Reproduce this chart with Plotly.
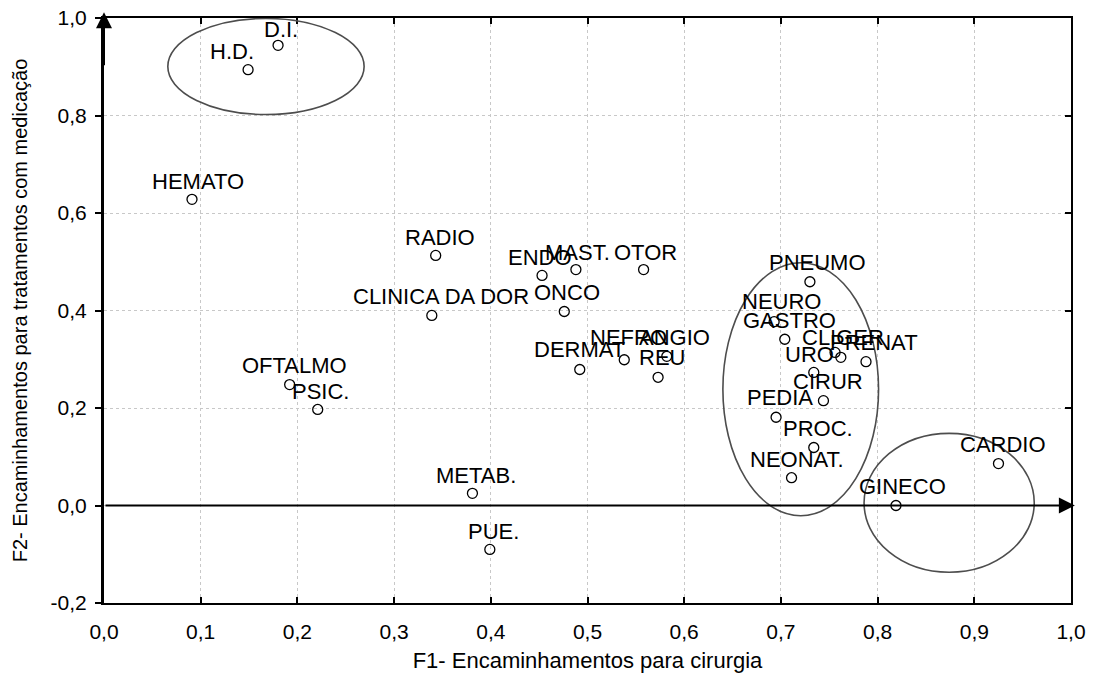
import plotly.graph_objects as go

# ---- data ----
names = ["D.I.", "H.D.", "HEMATO", "RADIO", "ENDO", "MAST.", "OTOR", "ONCO",
         "CLINICA DA DOR", "NEFRO", "ANGIO", "REU", "DERMAT", "OFTALMO", "PSIC.",
         "METAB.", "PUE.", "PNEUMO", "NEURO", "GASTRO", "CLIGER", "", "PRENAT",
         "URO", "CIRUR", "PEDIA", "PROC.", "NEONAT.", "CARDIO", "GINECO"]
f1 = [0.180, 0.149, 0.091, 0.343, 0.453, 0.488, 0.558, 0.476,
      0.339, 0.538, 0.582, 0.573, 0.492, 0.192, 0.221,
      0.381, 0.399, 0.730, 0.693, 0.704, 0.762, 0.756, 0.788,
      0.734, 0.744, 0.695, 0.734, 0.711, 0.925, 0.819]
f2 = [0.944, 0.894, 0.628, 0.513, 0.472, 0.484, 0.484, 0.398,
      0.390, 0.299, 0.306, 0.263, 0.279, 0.248, 0.197,
      0.025, -0.090, 0.459, 0.377, 0.341, 0.304, 0.314, 0.295,
      0.273, 0.215, 0.181, 0.119, 0.057, 0.086, 0.000]

x_ticks = [0.0, 0.1, 0.2, 0.3, 0.4, 0.5, 0.6, 0.7, 0.8, 0.9, 1.0]
x_ticktext = ["0,0", "0,1", "0,2", "0,3", "0,4", "0,5", "0,6", "0,7", "0,8", "0,9", "1,0"]
y_ticks = [-0.2, 0.0, 0.2, 0.4, 0.6, 0.8, 1.0]
y_ticktext = ["-0,2", "0,0", "0,2", "0,4", "0,6", "0,8", "1,0"]

x_title = "F1- Encaminhamentos para cirurgia"
y_title = "F2- Encaminhamentos para tratamentos com medicação"

# group ellipses (x0, x1, y0, y1)
ellipses = [(0.066, 0.269, 0.802, 0.999),
            (0.640, 0.801, -0.021, 0.498),
            (0.786, 0.962, -0.137, 0.148)]

# label offsets in pixels (dx right, dy up)
label_offsets = {
    "D.I.": (3, 16), "H.D.": (-16, 18), "HEMATO": (6, 18), "RADIO": (4, 18),
    "ENDO": (-2, 18), "MAST.": (2, 17), "OTOR": (2, 17), "ONCO": (3, 19),
    "CLINICA DA DOR": (9, 19), "NEFRO": (4, 22), "ANGIO": (8, 19), "REU": (4, 20),
    "DERMAT": (0, 20), "OFTALMO": (5, 19), "PSIC.": (3, 18), "METAB.": (4, 18),
    "PUE.": (4, 18), "PNEUMO": (8, 19), "NEURO": (7, 20), "GASTRO": (5, 19),
    "CLIGER": (2, 20), "PRENAT": (8, 19), "URO": (-4, 18), "CIRUR": (5, 19),
    "PEDIA": (4, 20), "PROC.": (4, 19), "NEONAT.": (5, 18), "CARDIO": (5, 19),
    "GINECO": (7, 19),
}

FONT = "Liberation Sans, Arial, sans-serif"

fig = go.Figure()
fig.add_trace(go.Scatter(
    x=f1, y=f2, mode="markers",
    marker=dict(symbol="circle-open", size=10, color="black",
                line=dict(width=1.3, color="black")),
    showlegend=False, hoverinfo="text", text=names, cliponaxis=False))
# overlay axes for inside ticks on top / right
fig.add_trace(go.Scatter(x=[], y=[], xaxis="x2", yaxis="y2",
                         showlegend=False, hoverinfo="skip"))

annotations = []
for n, xv, yv in zip(names, f1, f2):
    if not n:
        continue
    dx, dy = label_offsets.get(n, (4, 19))
    annotations.append(dict(x=xv, y=yv, xref="x", yref="y", text=n,
                            showarrow=False, xshift=dx, yshift=dy,
                            xanchor="center", yanchor="middle",
                            font=dict(family=FONT, size=22, color="black")))

# axis arrows
annotations.append(dict(x=1.004, y=0, ax=0, ay=0, xref="x", yref="y",
                        axref="x", ayref="y", text="", showarrow=True,
                        arrowhead=2, arrowsize=1.6, arrowwidth=2,
                        arrowcolor="black", standoff=0))
annotations.append(dict(x=0, y=1.012, ax=0, ay=0.9, xref="x", yref="y",
                        axref="x", ayref="y", text="", showarrow=True,
                        arrowhead=2, arrowsize=1.6, arrowwidth=2,
                        arrowcolor="black", standoff=0))

shapes = []
for (ex0, ex1, ey0, ey1) in ellipses:
    shapes.append(dict(type="circle", xref="x", yref="y",
                       x0=ex0, x1=ex1, y0=ey0, y1=ey1,
                       line=dict(color="#4d4d4d", width=1.6), layer="above"))

grid = dict(showgrid=True, gridcolor="#c8c8c8", griddash="dot", gridwidth=1)

fig.update_layout(
    width=1101, height=684,
    margin=dict(l=104, r=30, t=18, b=81, autoexpand=False),
    paper_bgcolor="white", plot_bgcolor="white",
    font=dict(family=FONT, color="black"),
    xaxis=dict(range=[0, 1], tickvals=x_ticks, ticktext=x_ticktext,
               ticks="inside", ticklen=6, tickwidth=1.5, tickcolor="black",
               showline=True, linecolor="black", linewidth=2, mirror=False,
               zeroline=False, ticklabelstandoff=9, automargin=False,
               tickfont=dict(size=21, family=FONT),
               title=dict(text=x_title, font=dict(size=22, family=FONT), standoff=10),
               **grid),
    yaxis=dict(range=[-0.2, 1.0], tickvals=y_ticks, ticktext=y_ticktext,
               ticks="outside", ticklen=6, tickwidth=1.5, tickcolor="black",
               showline=True, linecolor="black", linewidth=3, mirror=False,
               zeroline=False, ticklabelstandoff=4, automargin=False,
               tickfont=dict(size=21, family=FONT),
               title=dict(text=y_title, font=dict(size=20, family=FONT), standoff=18),
               **grid),
    xaxis2=dict(range=[0, 1], tickvals=x_ticks, overlaying="x", side="top",
                anchor="y", ticks="inside", ticklen=6, tickwidth=1.5,
                tickcolor="black", showticklabels=False, showline=True,
                linecolor="black", linewidth=2, showgrid=False, zeroline=False,
                automargin=False),
    yaxis2=dict(range=[-0.2, 1.0], tickvals=y_ticks, overlaying="y", side="right",
                anchor="x", ticks="inside", ticklen=6, tickwidth=1.5,
                tickcolor="black", showticklabels=False, showline=True,
                linecolor="black", linewidth=2, showgrid=False, zeroline=False,
                automargin=False),
    annotations=annotations,
    shapes=shapes,
)

fig.write_html("out.html", config={"displayModeBar": False},
               post_script="document.body.style.margin='0';document.body.style.padding='0';")
